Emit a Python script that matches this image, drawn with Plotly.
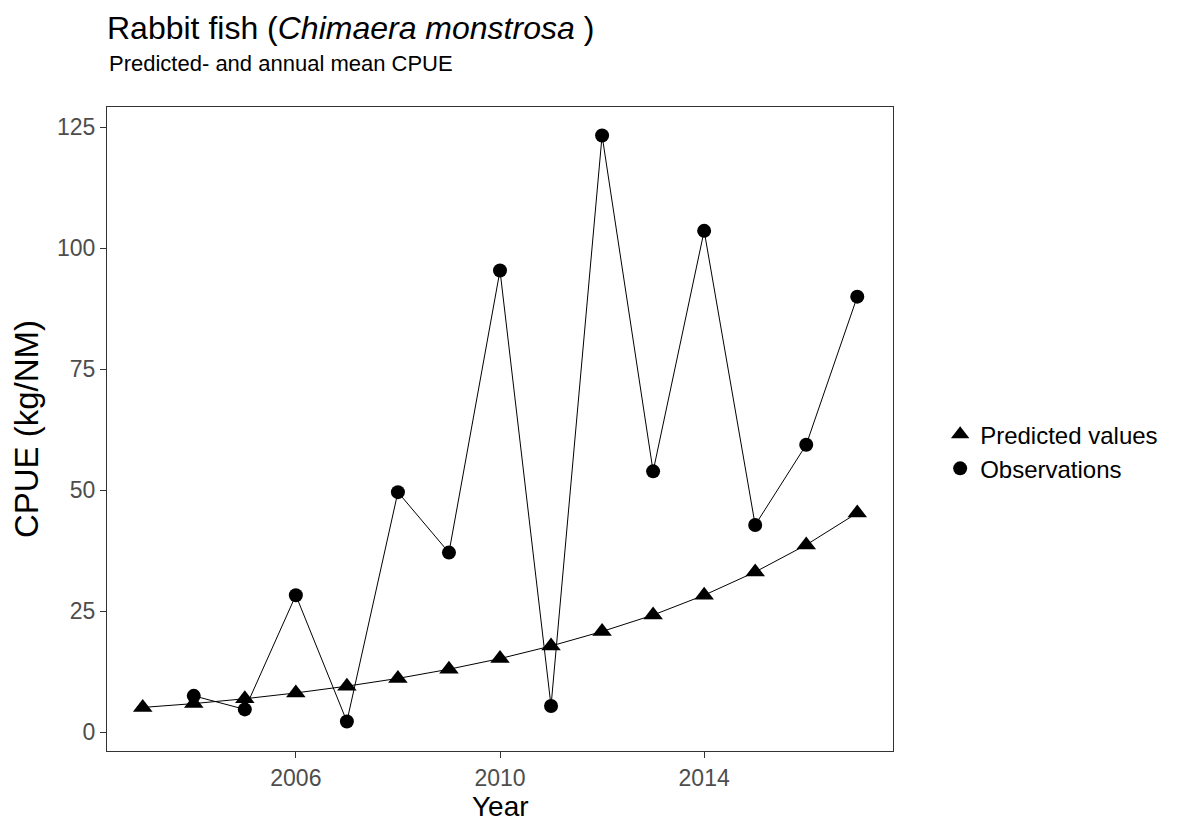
import plotly.graph_objects as go

years_pred = [2003, 2004, 2005, 2006, 2007, 2008, 2009, 2010, 2011, 2012, 2013, 2014, 2015, 2016, 2017]
predicted = [5.1, 5.9, 6.9, 8.1, 9.5, 11.1, 13.0, 15.2, 17.8, 20.8, 24.2, 28.3, 33.1, 38.7, 45.3]

years_obs = [2004, 2005, 2006, 2007, 2008, 2009, 2010, 2011, 2012, 2013, 2014, 2015, 2016, 2017]
observed = [7.5, 4.7, 28.3, 2.2, 49.6, 37.1, 95.4, 5.4, 123.3, 53.9, 103.6, 42.8, 59.4, 90.0]

x_ticks = [2006, 2010, 2014]
y_ticks = [0, 25, 50, 75, 100, 125]

FONT = "Liberation Sans, Arial, sans-serif"

# page body has an 8px margin, so the figure is drawn 8px right/down
W, H = 1172, 817

fig = go.Figure()

# connecting lines (not in legend)
fig.add_trace(go.Scatter(x=years_pred, y=predicted, mode="lines",
                         line=dict(color="black", width=1), showlegend=False, hoverinfo="skip"))
fig.add_trace(go.Scatter(x=years_obs, y=observed, mode="lines",
                         line=dict(color="black", width=1), showlegend=False, hoverinfo="skip"))

# markers
fig.add_trace(go.Scatter(x=years_pred, y=predicted, mode="markers", name="Predicted values",
                         marker=dict(symbol="triangle-up", size=17, color="black")))
fig.add_trace(go.Scatter(x=years_obs, y=observed, mode="markers", name="Observations",
                         marker=dict(symbol="circle", size=14, color="black")))

axis_common = dict(
    showgrid=False, zeroline=False, showline=True, mirror=True,
    linecolor="#333333", linewidth=1.3,
    ticks="outside", ticklen=6, tickwidth=1.2, tickcolor="#333333",
    tickfont=dict(family=FONT, size=23, color="#4D4D4D"),
)

fig.update_xaxes(range=[2002.3, 2017.7], tickvals=x_ticks, ticktext=[str(v) for v in x_ticks],
                 **axis_common)
fig.update_yaxes(range=[-3.9, 129.2], tickvals=y_ticks, ticktext=[str(v) for v in y_ticks],
                 title=dict(text="CPUE (kg/NM)", font=dict(family=FONT, size=33, color="black"), standoff=8),
                 **axis_common)

fig.update_layout(
    width=W, height=H,
    margin=dict(l=99, r=287, t=99, b=74),
    paper_bgcolor="white", plot_bgcolor="white",
    font=dict(family=FONT, color="black"),
    title=dict(text="Rabbit fish (<i>Chimaera monstrosa</i> )", x=99 / W, xanchor="left",
               y=1 - 20 / H, yanchor="middle", font=dict(family=FONT, size=32, color="black")),
    legend=dict(x=1.06, xanchor="left", y=0.465, yanchor="middle",
                font=dict(family=FONT, size=24, color="black"),
                bgcolor="rgba(0,0,0,0)", itemsizing="trace", tracegroupgap=0),
    annotations=[
        dict(text="Predicted- and annual mean CPUE", xref="paper", yref="paper",
             x=0, y=1.068, xanchor="left", yanchor="middle", showarrow=False,
             font=dict(family=FONT, size=22, color="black")),
        dict(text="Year", xref="paper", yref="paper",
             x=0.5, y=-0.0865, xanchor="center", yanchor="middle", showarrow=False,
             font=dict(family=FONT, size=28, color="black")),
    ],
)

fig.write_html("out.html")
